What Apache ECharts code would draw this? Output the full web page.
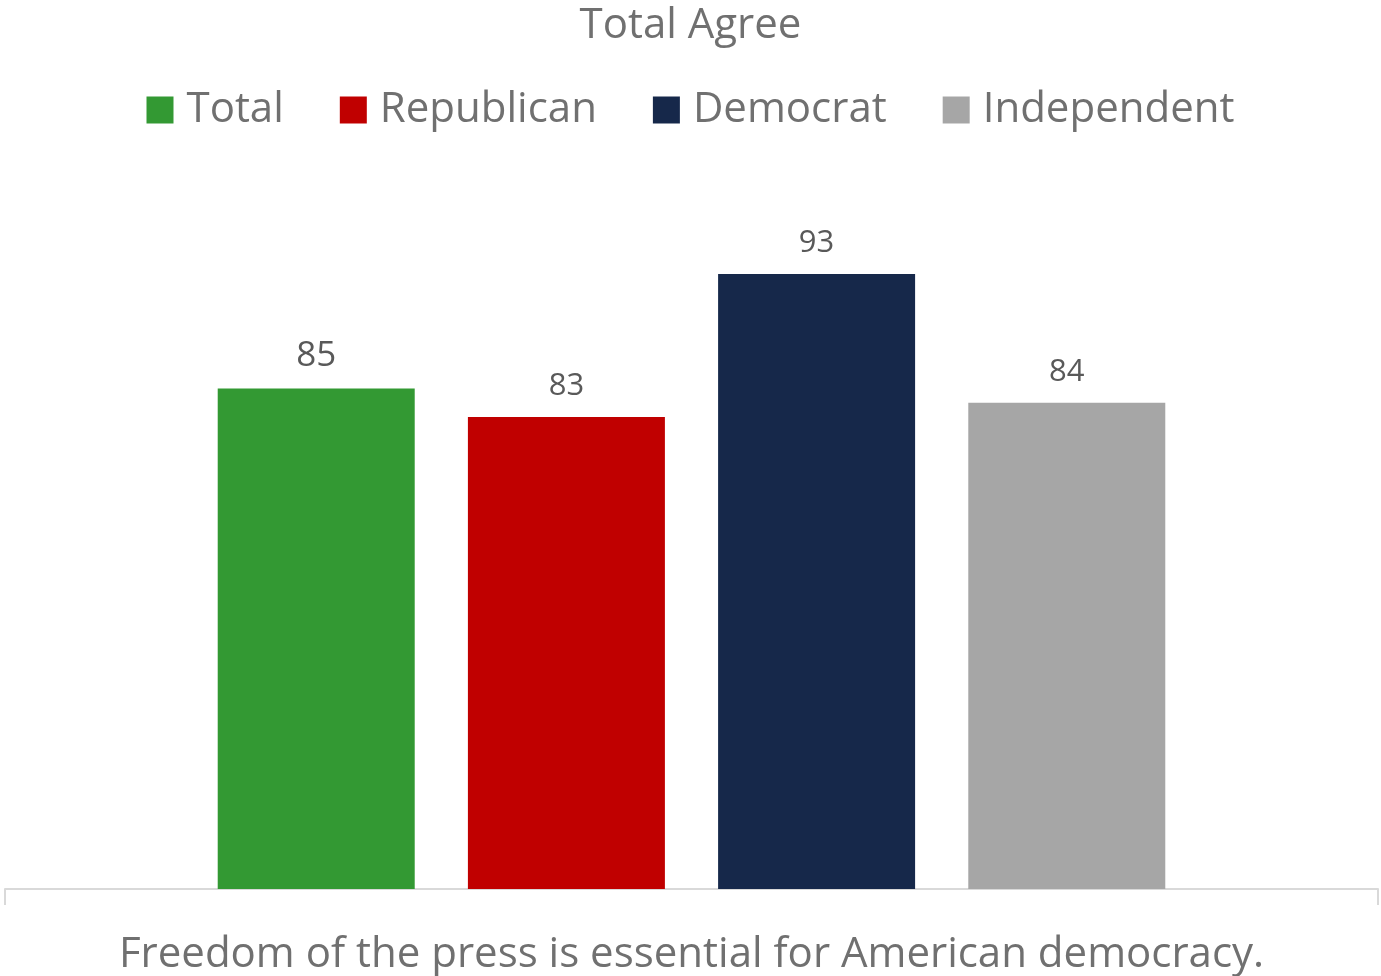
<!DOCTYPE html>
<html>
<head>
<meta charset="utf-8">
<script src="https://cdn.jsdelivr.net/npm/echarts@6/dist/echarts.min.js"></script>
<style>html,body{margin:0;padding:0;background:#fff;}#chart{width:1381px;height:976px;}</style>
</head>
<body>
<div id="chart"></div>
<script>
const categories = ['Freedom of the press is essential for American democracy.'];
const seriesNames = ['Total', 'Republican', 'Democrat', 'Independent'];
const totalValues = [85];
const republicanValues = [83];
const democratValues = [93];
const independentValues = [84];
const seriesColors = ['#339933', '#C00000', '#16284A', '#A6A6A6'];
const labelSizes = [35, 31, 31, 31];

const valueArrays = [totalValues, republicanValues, democratValues, independentValues];
const FONT = '"Open Sans", "Noto Sans", sans-serif';

const chart = echarts.init(document.getElementById('chart'), null, {renderer: 'canvas'});
chart.setOption({
  animation: false,
  title: {
    text: 'Total Agree',
    left: 'center',
    top: 5,
    padding: 0,
    textStyle: {color: '#707070', fontFamily: FONT, fontSize: 42, fontWeight: 'normal'}
  },
  legend: {
    data: seriesNames,
    top: 84,
    left: 'center',
    itemWidth: 27,
    itemHeight: 27,
    itemGap: 56,
    icon: 'rect',
    textStyle: {color: '#707070', fontFamily: FONT, fontSize: 42, padding: [0, 0, 0, 8]}
  },
  grid: {left: 5, right: 3, top: 174, bottom: 87, containLabel: false},
  xAxis: {
    type: 'category',
    data: categories,
    axisLine: {show: true, lineStyle: {color: '#D9D9D9', width: 2}},
    axisTick: {show: true, length: 16, lineStyle: {color: '#D9D9D9', width: 2}},
    axisLabel: {color: '#707070', fontFamily: FONT, fontSize: 42, margin: 45}
  },
  yAxis: {
    type: 'value',
    min: 50,
    max: 100,
    show: false,
    splitLine: {show: false}
  },
  series: seriesNames.map((name, i) => ({
    name: name,
    type: 'bar',
    data: valueArrays[i],
    barWidth: 197,
    barGap: '27%',
    itemStyle: {color: seriesColors[i]},
    label: {
      show: true,
      position: 'top',
      distance: 15,
      color: '#595959',
      fontFamily: FONT,
      fontSize: labelSizes[i]
    }
  }))
});
</script>
</body>
</html>
